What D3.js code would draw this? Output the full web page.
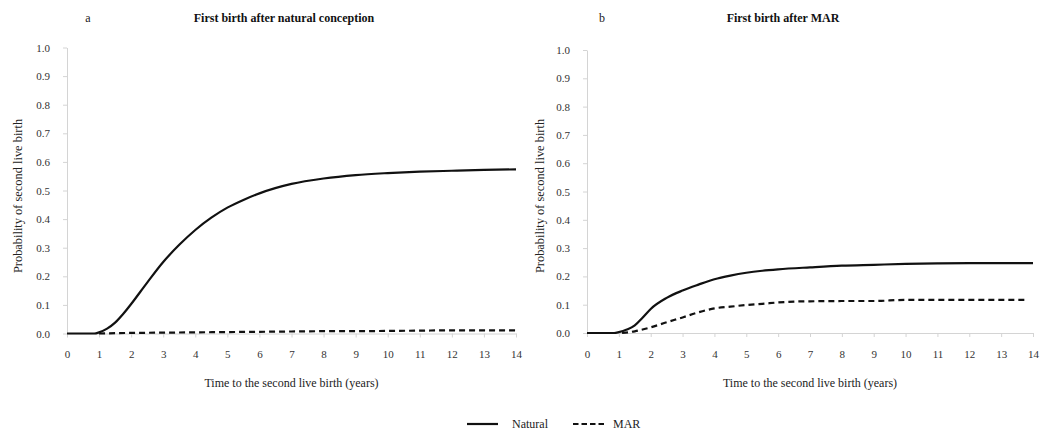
<!DOCTYPE html>
<html>
<head>
<meta charset="utf-8">
<script src="https://cdn.jsdelivr.net/npm/d3@7"></script>
<style>
  body { margin: 0; background: #fff; }
  svg { display: block; font-family: "Liberation Serif", "Times New Roman", serif; }
  .axis path, .axis line { stroke: #d4d4d4; }
  .axis text { fill: #333; font-size: 11px; }
</style>
</head>
<body>
<div id="chart"></div>
<script>
// values
let yTicks = [0, 0.1, 0.2, 0.3, 0.4, 0.5, 0.6, 0.7, 0.8, 0.9, 1.0];
let xTicks = [0, 1, 2, 3, 4, 5, 6, 7, 8, 9, 10, 11, 12, 13, 14];

let years = [0, 0.5, 0.85, 1, 1.25, 1.5, 1.75, 2, 2.5, 3, 3.5, 4, 4.5, 5, 5.5, 6, 7, 8, 9, 10, 11, 12, 13, 14];
let naturalA = [0, 0, 0, 0.004, 0.017, 0.038, 0.068, 0.103, 0.178, 0.25, 0.31, 0.362, 0.405, 0.44, 0.467, 0.49, 0.523, 0.542, 0.554, 0.561, 0.566, 0.569, 0.572, 0.574];
let naturalB = [0, 0, 0, 0.003, 0.012, 0.027, 0.055, 0.085, 0.124, 0.15, 0.171, 0.19, 0.203, 0.213, 0.22, 0.225, 0.232, 0.238, 0.241, 0.244, 0.246, 0.247, 0.247, 0.247];

let yearsMarA = [1, 2, 3, 4, 5, 6, 7, 8, 9, 10, 11, 12, 13, 14];
let marA = [0, 0.002, 0.003, 0.004, 0.005, 0.006, 0.007, 0.008, 0.008, 0.009, 0.01, 0.011, 0.011, 0.011];

let yearsMarB = [1.1, 1.5, 2, 2.5, 3, 3.5, 4, 4.5, 5, 5.5, 6, 6.5, 7, 8, 9, 10, 11, 12, 13, 13.8];
let marB = [0, 0.006, 0.02, 0.038, 0.055, 0.073, 0.087, 0.093, 0.099, 0.103, 0.108, 0.111, 0.112, 0.113, 0.113, 0.117, 0.117, 0.117, 0.117, 0.117];

let panelLabels = ["a", "b"];
let panelTitles = ["First birth after natural conception", "First birth after MAR"];
let xTitle = "Time to the second live birth (years)";
let yTitle = "Probability of second live birth";
let seriesNames = ["Natural", "MAR"];

let svgWidth = 1046;
let svgHeight = 433;

var svg = d3.select("#chart")
    .append("svg")
    .attr("width", svgWidth)
    .attr("height", svgHeight);

// layout of the two panels
let panels = [
    { left: 67, right: 516, top: 47.5, bottom: 333.5, labelX: 88, titleX: 284, yTitleX: 22,
      natural: naturalA, marX: yearsMarA, mar: marA },
    { left: 587, right: 1033, top: 50, bottom: 333, labelX: 602, titleX: 783, yTitleX: 544,
      natural: naturalB, marX: yearsMarB, mar: marB }
];

panels.forEach(function(p, i) {
    var x = d3.scaleLinear().domain([0, 14]).range([p.left, p.right]);
    var y = d3.scaleLinear().domain([0, 1]).range([p.bottom, p.top]);

    // axes
    svg.append("g")
        .attr("class", "axis")
        .attr("transform", `translate(0, ${p.bottom})`)
        .call(d3.axisBottom(x).tickValues(xTicks).tickSize(4).tickSizeOuter(0).tickPadding(13).tickFormat(d3.format("d")))
        .attr("font-family", "Liberation Serif, serif");

    svg.append("g")
        .attr("class", "axis")
        .attr("transform", `translate(${p.left}, 0)`)
        .call(d3.axisLeft(y).tickValues(yTicks).tickSize(4).tickSizeOuter(0).tickPadding(13).tickFormat(d3.format(".1f")))
        .attr("font-family", "Liberation Serif, serif");

    var line = d3.line()
        .x(d => x(d[0]))
        .y(d => y(d[1]))
        .curve(d3.curveMonotoneX);

    svg.append("path")
        .datum(p.marX.map((t, k) => [t, p.mar[k]]))
        .attr("fill", "none")
        .attr("stroke", "#111")
        .attr("stroke-width", 2.2)
        .attr("stroke-dasharray", "6,4")
        .attr("d", line);

    svg.append("path")
        .datum(years.map((t, k) => [t, p.natural[k]]))
        .attr("fill", "none")
        .attr("stroke", "#111")
        .attr("stroke-width", 2.2)
        .attr("d", line);

    // titles
    svg.append("text")
        .attr("x", p.labelX)
        .attr("y", 22)
        .attr("font-size", "12px")
        .attr("text-anchor", "middle")
        .attr("fill", "#222")
        .text(panelLabels[i]);

    svg.append("text")
        .attr("x", p.titleX)
        .attr("y", 22)
        .attr("font-size", "12px")
        .attr("font-weight", "bold")
        .attr("text-anchor", "middle")
        .attr("fill", "#111")
        .text(panelTitles[i]);

    svg.append("text")
        .attr("x", (p.left + p.right) / 2)
        .attr("y", 387)
        .attr("font-size", "12px")
        .attr("text-anchor", "middle")
        .attr("fill", "#222")
        .text(xTitle);

    svg.append("text")
        .attr("transform", `translate(${p.yTitleX}, 196) rotate(-90)`)
        .attr("font-size", "12.4px")
        .attr("text-anchor", "middle")
        .attr("fill", "#222")
        .text(yTitle);
});

// legend
var legend = svg.append("g").attr("transform", "translate(467, 424)");

legend.append("line")
    .attr("x1", 0).attr("x2", 31).attr("y1", 0).attr("y2", 0)
    .attr("stroke", "#111").attr("stroke-width", 2.2);
legend.append("text")
    .attr("x", 45).attr("y", 4)
    .attr("font-size", "12px").attr("fill", "#222")
    .text(seriesNames[0]);

legend.append("line")
    .attr("x1", 106).attr("x2", 137).attr("y1", 0).attr("y2", 0)
    .attr("stroke", "#111").attr("stroke-width", 2.2)
    .attr("stroke-dasharray", "5.5,3");
legend.append("text")
    .attr("x", 146).attr("y", 4)
    .attr("font-size", "12px").attr("fill", "#222")
    .text(seriesNames[1]);
</script>
</body>
</html>
